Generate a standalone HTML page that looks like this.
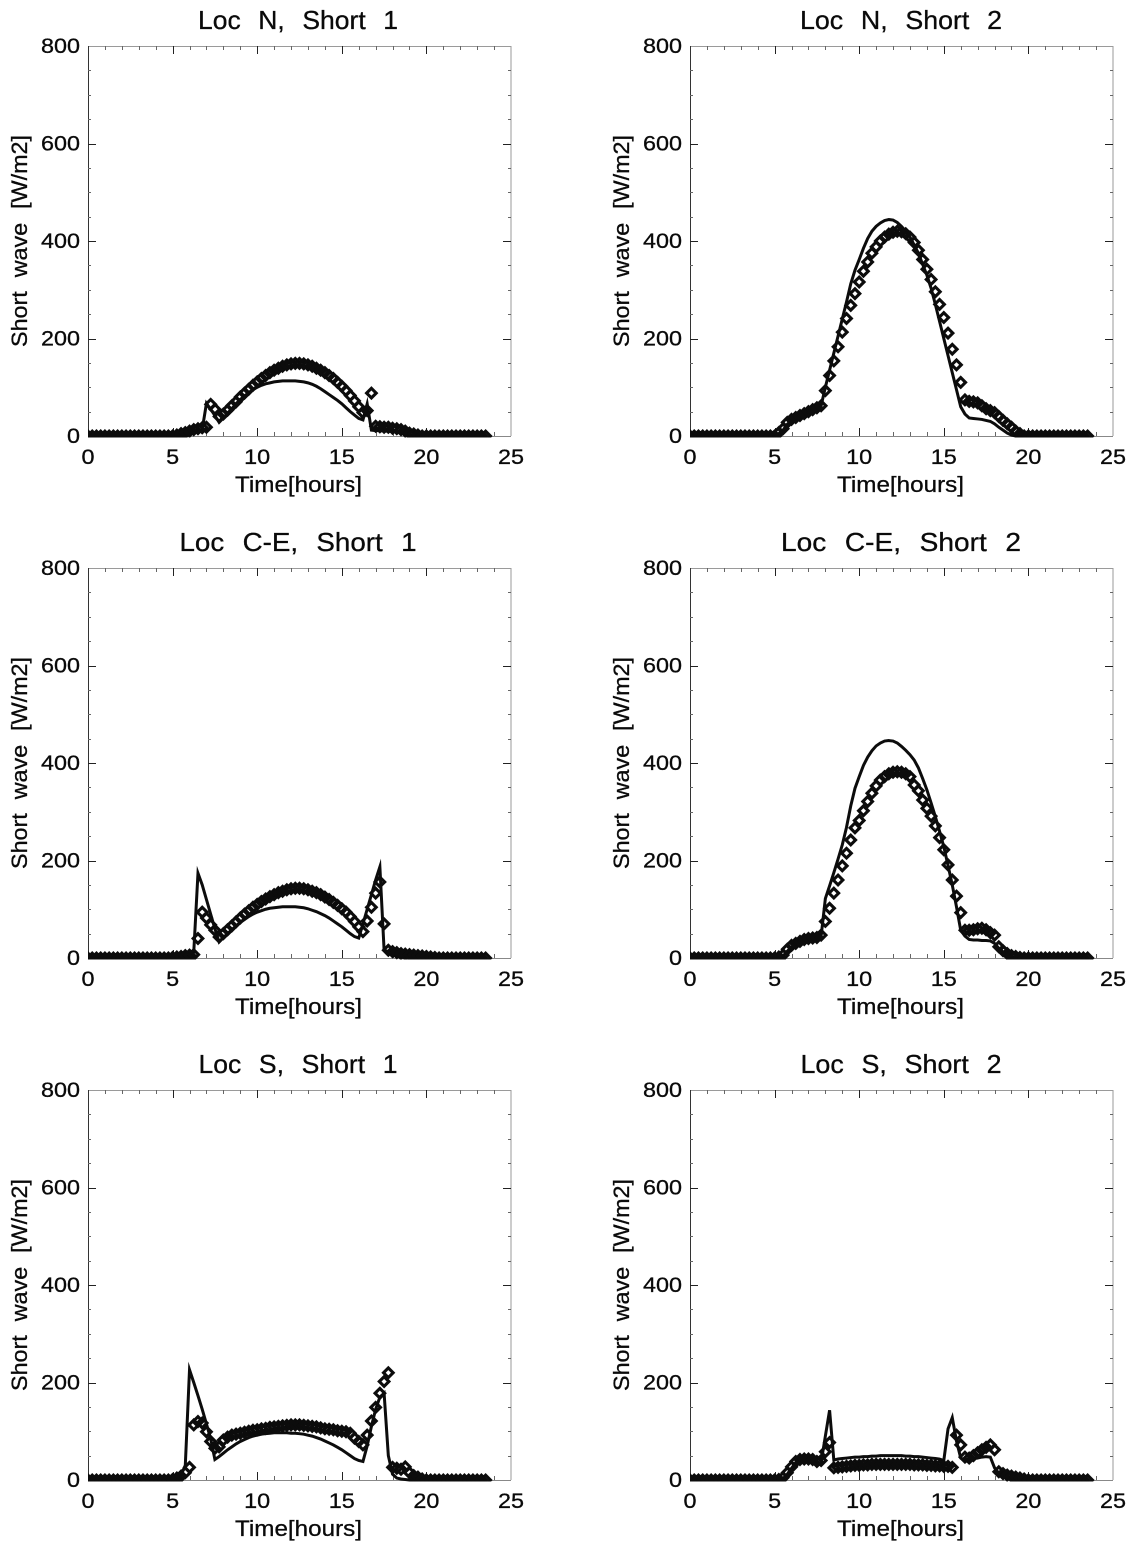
<!DOCTYPE html>
<html lang="en">
<head>
<meta charset="utf-8">
<title>Short wave radiation panels</title>
<style>
html,body{margin:0;padding:0;background:#fff;}
svg{display:block;}
text{font-family:"Liberation Sans",sans-serif;fill:#0a0a0a;stroke:#0a0a0a;stroke-width:.3px;}
.title{font-size:26px;text-anchor:middle;word-spacing:10px;}
.xlabel{font-size:22px;text-anchor:middle;}
.ylabel{font-size:22px;text-anchor:middle;word-spacing:7px;}
.tick{font-size:21px;}
</style>
</head>
<body>
<svg id="figure" xmlns="http://www.w3.org/2000/svg" width="1136" height="1544" viewBox="0 0 1136 1544">
<defs><clipPath id="plot-clip"><rect x="0" y="-10" width="423" height="401.5"/></clipPath></defs>
<rect width="1136" height="1544" fill="#fff"/>
<g id="p0" transform="translate(88,46)">
<text class="title" x="210" y="-17" textLength="200" lengthAdjust="spacingAndGlyphs">Loc N, Short 1</text>
<text class="xlabel" x="210.5" y="446" textLength="127" lengthAdjust="spacingAndGlyphs">Time[hours]</text>
<text class="ylabel" transform="translate(-61,195) rotate(-90)" textLength="212" lengthAdjust="spacingAndGlyphs">Short wave [W/m2]</text>
</g>
<g id="p1" transform="translate(690,46)">
<text class="title" x="211" y="-17" textLength="202" lengthAdjust="spacingAndGlyphs">Loc N, Short 2</text>
<text class="xlabel" x="210.5" y="446" textLength="127" lengthAdjust="spacingAndGlyphs">Time[hours]</text>
<text class="ylabel" transform="translate(-61,195) rotate(-90)" textLength="212" lengthAdjust="spacingAndGlyphs">Short wave [W/m2]</text>
</g>
<g id="p2" transform="translate(88,568)">
<text class="title" x="210" y="-17" textLength="237" lengthAdjust="spacingAndGlyphs">Loc C-E, Short 1</text>
<text class="xlabel" x="210.5" y="446" textLength="127" lengthAdjust="spacingAndGlyphs">Time[hours]</text>
<text class="ylabel" transform="translate(-61,195) rotate(-90)" textLength="212" lengthAdjust="spacingAndGlyphs">Short wave [W/m2]</text>
</g>
<g id="p3" transform="translate(690,568)">
<text class="title" x="211" y="-17" textLength="240" lengthAdjust="spacingAndGlyphs">Loc C-E, Short 2</text>
<text class="xlabel" x="210.5" y="446" textLength="127" lengthAdjust="spacingAndGlyphs">Time[hours]</text>
<text class="ylabel" transform="translate(-61,195) rotate(-90)" textLength="212" lengthAdjust="spacingAndGlyphs">Short wave [W/m2]</text>
</g>
<g id="p4" transform="translate(88,1090)">
<text class="title" x="210" y="-17" textLength="199" lengthAdjust="spacingAndGlyphs">Loc S, Short 1</text>
<text class="xlabel" x="210.5" y="446" textLength="127" lengthAdjust="spacingAndGlyphs">Time[hours]</text>
<text class="ylabel" transform="translate(-61,195) rotate(-90)" textLength="212" lengthAdjust="spacingAndGlyphs">Short wave [W/m2]</text>
</g>
<g id="p5" transform="translate(690,1090)">
<text class="title" x="211" y="-17" textLength="201" lengthAdjust="spacingAndGlyphs">Loc S, Short 2</text>
<text class="xlabel" x="210.5" y="446" textLength="127" lengthAdjust="spacingAndGlyphs">Time[hours]</text>
<text class="ylabel" transform="translate(-61,195) rotate(-90)" textLength="212" lengthAdjust="spacingAndGlyphs">Short wave [W/m2]</text>
</g>
</svg>
<script>
const xTickLabels = [0, 5, 10, 15, 20, 25];
const yTickLabels = [0, 200, 400, 600, 800];
const hours = [
0,.25,.5,.75,
1,1.25,1.5,1.75, 2,2.25,2.5,2.75, 3,3.25,3.5,3.75, 4,4.25,4.5,4.75,
5,5.25,5.5,5.75, 6,6.25,6.5,6.75, 7,7.25,7.5,7.75, 8,8.25,8.5,8.75,
9,9.25,9.5,9.75, 10,10.25,10.5,10.75, 11,11.25,11.5,11.75, 12,12.25,12.5,12.75,
13,13.25,13.5,13.75, 14,14.25,14.5,14.75, 15,15.25,15.5,15.75, 16,16.25,16.5,16.75,
17,17.25,17.5,17.75, 18,18.25,18.5,18.75, 19,19.25,19.5,19.75,
20,20.25,20.5,20.75, 21,21.25,21.5,21.75, 22,22.25,22.5,22.75, 23,23.25,23.5
];
const lineN1 = [
0,0,0,0, 0,0,0,0, 0,0,0,0, 0,0,0,0, 0,0,0,0,
1,2,4,6, 8,10,12,13, 67,55,42,28, 37,47,56,66,
75,82,89,95, 100,104,107,109, 111,112,113,113, 113,113,112,111,
109,106,102,97, 91,85,79,73, 66,58,50,43, 36,33,66,12,
11,11,10,10, 9,8,7,5, 3,2,1,0,
0,0,0,0, 0,0,0,0, 0,0,0,0, 0,0,0
];
const markN1 = [
0,0,0,0, 0,0,0,0, 0,0,0,0, 0,0,0,0, 0,0,0,0,
0,2,5,7, 10,13,15,17, 18,65,55,40, 45,53,62,70,
80,88,96,104, 111,118,124,130, 135,139,143,146, 148,149,149,148,
146,143,139,135, 130,124,118,110, 102,93,83,72, 60,48,52,88,
20,19,18,18, 16,15,13,10, 6,4,2,0,
0,0,0,0, 0,0,0,0, 0,0,0,0, 0,0,0
];
const lineN2 = [
0,0,0,0, 0,0,0,0, 0,0,0,0, 0,0,0,0, 0,0,0,0,
0,5,12,24, 32,36,40,44, 48,52,56,62, 100,135,170,205,
240,275,312,340, 362,385,405,420, 430,437,442,444, 443,438,430,420,
408,392,375,352, 330,303,270,235, 200,165,130,95, 60,45,37,36,
35,34,32,30, 25,18,12,6, 2,0,0,0,
0,0,0,0, 0,0,0,0, 0,0,0,0, 0,0,0
];
const markN2 = [
0,0,0,0, 0,0,0,0, 0,0,0,0, 0,0,0,0, 0,0,0,0,
0,7,15,28, 34,38,42,46, 50,54,58,62, 93,124,154,183,
213,241,268,292, 316,338,357,375, 388,400,408,414, 418,420,419,415,
408,397,381,362, 342,321,296,270, 243,211,178,146, 110,74,71,70,
68,62,56,52, 48,40,32,25, 18,10,5,0,
0,0,0,0, 0,0,0,0, 0,0,0,0, 0,0,0
];
const lineCE1 = [
0,0,0,0, 0,0,0,0, 0,0,0,0, 0,0,0,0, 0,0,0,0,
1,2,2,3, 4,12,174,150, 120,90,60,33, 42,50,58,66,
73,79,85,90, 94,97,100,102, 103,104,105,105, 105,105,104,103,
101,98,95,91, 87,82,76,70, 64,57,50,44, 41,70,100,130,
160,187,16,13, 11,10,9,8, 6,5,4,3,
2,2,1,1, 0,0,0,0, 0,0,0,0, 0,0,0
];
const markCE1 = [
0,0,0,0, 0,0,0,0, 0,0,0,0, 0,0,0,0, 0,0,0,0,
1,2,3,5, 6,7,40,94, 82,68,57,43, 50,58,66,74,
82,90,97,104, 110,116,121,126, 130,134,137,140, 142,143,143,142,
140,137,134,130, 125,120,114,108, 101,94,85,75, 64,54,76,104,
133,156,70,16, 13,11,9,8, 7,6,5,4,
3,2,1,0, 0,0,0,0, 0,0,0,0, 0,0,0
];
const lineCE2 = [
0,0,0,0, 0,0,0,0, 0,0,0,0, 0,0,0,0, 0,0,0,0,
0,1,4,14, 22,28,32,36, 38,40,42,45, 122,148,175,203,
232,268,312,348, 372,395,412,425, 435,441,445,446, 445,441,434,426,
417,406,390,368, 345,318,290,260, 228,190,150,105, 57,45,38,37,
37,36,36,35, 30,20,12,5, 2,0,0,0,
0,0,0,0, 0,0,0,0, 0,0,0,0, 0,0,0
];
const markCE2 = [
0,0,0,0, 0,0,0,0, 0,0,0,0, 0,0,0,0, 0,0,0,0,
0,2,6,18, 26,30,34,38, 40,41,42,47, 75,102,133,160,
189,215,242,267, 282,302,321,338, 353,365,372,378, 381,382,381,378,
372,355,343,324, 307,291,271,247, 222,191,160,127, 93,57,57,58,
60,61,58,52, 47,23,15,9, 5,3,1,0,
0,0,0,0, 0,0,0,0, 0,0,0,0, 0,0,0
];
const lineS1 = [
0,0,0,0, 0,0,0,0, 0,0,0,0, 0,0,0,0, 0,0,0,0,
2,4,10,30, 226,200,173,145, 115,85,42,48, 55,62,68,74,
79,83,87,90, 92,94,95,96, 97,97,97,97, 96,96,95,94,
92,90,87,84, 80,76,72,67, 62,56,50,44, 40,38,70,110,
145,170,178,50, 12,4,2,1, 0,0,0,0,
0,0,0,0, 0,0,0,0, 0,0,0,0, 0,0,0
];
const markS1 = [
0,0,0,0, 0,0,0,0, 0,0,0,0, 0,0,0,0, 0,0,0,0,
1,4,8,15, 26,113,120,117, 99,79,65,68, 82,88,92,94,
96,98,100,102, 103,105,106,108, 109,110,111,112, 113,113,113,112,
111,110,109,107, 105,104,103,101, 100,99,96,86, 79,72,92,121,
149,178,202,220, 26,24,22,27, 15,9,6,2,
0,0,0,0, 0,0,0,0, 0,0,0,0, 0,0,0
];
const lineS2 = [
0,0,0,0, 0,0,0,0, 0,0,0,0, 0,0,0,0, 0,0,0,0,
0,1,3,12, 24,36,40,42, 42,40,34,36, 90,143,41,43,
44,45,46,47, 47,48,48,49, 49,50,50,50, 50,50,50,49,
49,48,48,47, 46,45,44,43, 40,105,128,80, 45,38,40,44,
45,47,48,47, 25,14,10,8, 6,4,2,1,
0,0,0,0, 0,0,0,0, 0,0,0,0, 0,0,0
];
const markS2 = [
0,0,0,0, 0,0,0,0, 0,0,0,0, 0,0,0,0, 0,0,0,0,
0,1,5,15, 27,38,42,43, 43,42,38,40, 58,77,25,26,
27,28,29,30, 30,31,31,32, 32,32,32,32, 32,32,32,32,
32,31,31,31, 30,30,29,29, 28,28,26,92, 72,47,45,50,
56,62,67,72, 62,17,13,10, 8,6,4,2,
0,0,0,0, 0,0,0,0, 0,0,0,0, 0,0,0
];
const lineSeries = [lineN1, lineN2, lineCE1, lineCE2, lineS1, lineS2];
const markerSeries = [markN1, markN2, markCE1, markCE2, markS1, markS2];

const NS = 'http://www.w3.org/2000/svg';
const plotW = 423, plotH = 390, xMax = 25, yMax = 800;
const xScale = v => v / xMax * plotW;
const yScale = v => plotH - v / yMax * plotH;

function make(tag, parent, attrs) {
  const el = document.createElementNS(NS, tag);
  for (const k in attrs) el.setAttribute(k, attrs[k]);
  parent.appendChild(el);
  return el;
}
function tickLine(parent, x1, y1, x2, y2, major) {
  const el = make('line', parent, {x1: x1, y1: y1, x2: x2, y2: y2, stroke: major ? '#222' : '#666', 'stroke-width': 1});
  
  
}
function drawAxes(g) {
  const frame = make('path', g, {d: 'M0 .5H' + plotW + 'V' + plotH, fill: 'none', stroke: '#9a9a9a', 'stroke-width': 1});
  
  
  const bottom = make('line', g, {x1: 0, y1: plotH + .5, x2: plotW, y2: plotH + .5, stroke: '#888', 'stroke-width': 1});
  
  
  const left = make('line', g, {x1: .5, y1: 0, x2: .5, y2: plotH, stroke: '#333', 'stroke-width': 1});
  
  
  for (let h = 1; h < xMax; h++) {
    const x = Math.round(xScale(h)) + .5, major = h % 5 === 0, len = major ? 8 : 4;
    tickLine(g, x, 0, x, len, major);
    tickLine(g, x, plotH, x, plotH - len, major);
  }
  for (let v = 50; v < yMax; v += 50) {
    const y = Math.round(yScale(v)) + .5, major = v % 200 === 0, len = major ? 8 : 3;
    tickLine(g, 0, y, len, y, major);
    tickLine(g, plotW, y, plotW - len, y, major);
  }
  xTickLabels.forEach(v => {
    const n = String(v).length;
    const t = make('text', g, {class: 'tick', x: xScale(v), y: plotH + 28, 'text-anchor': 'middle', textLength: n * 13, lengthAdjust: 'spacingAndGlyphs'});
    
    
    t.textContent = v;
  });
  yTickLabels.forEach(v => {
    const n = String(v).length;
    const t = make('text', g, {class: 'tick', x: -8, y: yScale(v) + 7, 'text-anchor': 'end', textLength: n * 13, lengthAdjust: 'spacingAndGlyphs'});
    
    
    t.textContent = v;
  });
}
function drawSeries(g, lineValues, markerValues) {
  const marks = make('g', g, {'clip-path': 'url(#plot-clip)'});
  
  
  const d = hours.map((h, i) => (i ? 'L' : 'M') + xScale(h).toFixed(2) + ' ' + yScale(lineValues[i]).toFixed(2)).join('');
  const line = make('path', marks, {d: d, fill: 'none', stroke: '#0c0c0c', 'stroke-width': 3, 'stroke-linejoin': 'miter', 'stroke-miterlimit': 6});
  
  
  const r = 4.8;
  hours.forEach((h, i) => {
    const cx = xScale(h), cy = yScale(markerValues[i]);
    const m = make('path', marks, {d: 'M' + (cx - r) + ' ' + cy + 'L' + cx + ' ' + (cy - r) + 'L' + (cx + r) + ' ' + cy + 'L' + cx + ' ' + (cy + r) + 'Z', fill: 'none', stroke: '#0c0c0c', 'stroke-width': 3.1});
    
    
  });
}
lineSeries.forEach((values, i) => {
  const g = document.getElementById('p' + i);
  drawAxes(g);
  drawSeries(g, values, markerSeries[i]);
});
</script>
</body>
</html>
